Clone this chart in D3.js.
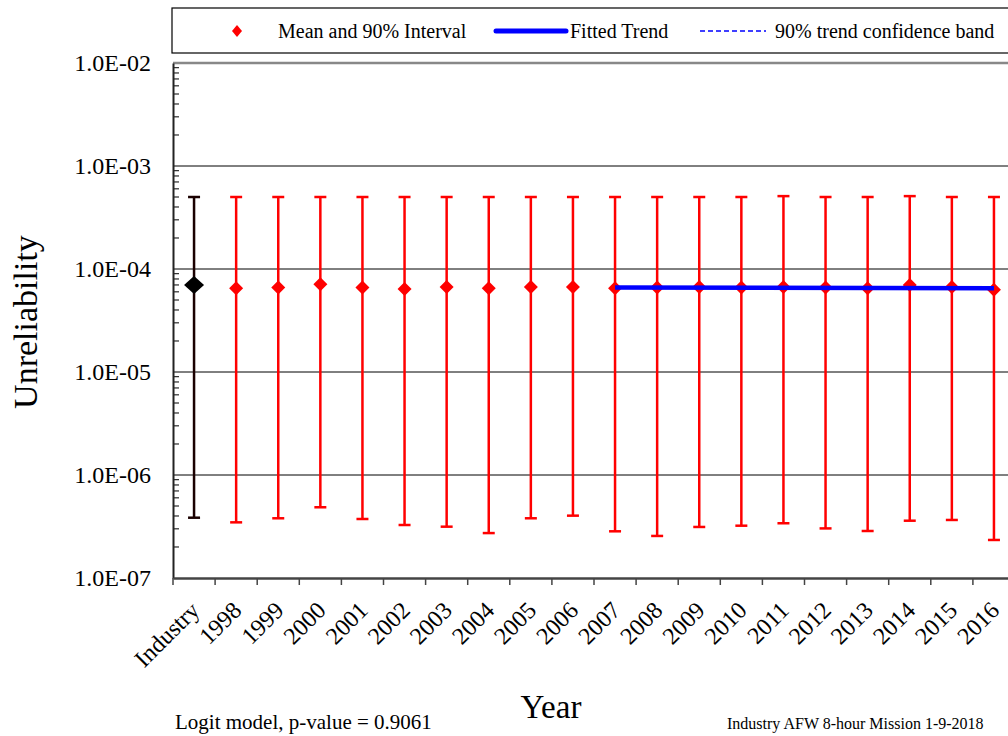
<!DOCTYPE html>
<html>
<head>
<meta charset="utf-8">
<script src="https://cdn.jsdelivr.net/npm/d3@7"></script>
<style>
html,body{margin:0;padding:0;background:#fff;overflow:hidden;}
text{font-family:"Liberation Serif","Times New Roman",serif;}
</style>
</head>
<body>
<svg id="chart" width="1008" height="736"></svg>
<script>
const categories = ["Industry","1998","1999","2000","2001","2002","2003","2004","2005","2006","2007","2008","2009","2010","2011","2012","2013","2014","2015","2016"];
const meanValues = [7.0e-5,6.5e-5,6.6e-5,7.1e-5,6.6e-5,6.4e-5,6.7e-5,6.5e-5,6.7e-5,6.7e-5,6.5e-5,6.6e-5,6.7e-5,6.6e-5,6.7e-5,6.6e-5,6.5e-5,7.0e-5,6.7e-5,6.3e-5];
const upperValues = [5.0e-4,5.0e-4,5.0e-4,5.0e-4,5.0e-4,5.0e-4,5.0e-4,5.0e-4,5.0e-4,5.0e-4,5.0e-4,5.0e-4,5.0e-4,5.0e-4,5.1e-4,5.0e-4,5.0e-4,5.1e-4,5.0e-4,5.0e-4];
const lowerValues = [3.85e-7,3.47e-7,3.8e-7,4.86e-7,3.74e-7,3.27e-7,3.15e-7,2.73e-7,3.8e-7,4.03e-7,2.84e-7,2.56e-7,3.13e-7,3.22e-7,3.4e-7,3.03e-7,2.86e-7,3.6e-7,3.66e-7,2.34e-7];
const trendYears = ["2007","2016"];
const trendValues = [6.6e-5,6.5e-5];
const bandUpper = [6.65e-5,6.55e-5];
const bandLower = [6.55e-5,6.45e-5];
const yTickValues = [1e-7,1e-6,1e-5,1e-4,1e-3,1e-2];
const yTickLabels = ["1.0E-07","1.0E-06","1.0E-05","1.0E-04","1.0E-03","1.0E-02"];

const svg = d3.select("#chart");
const pLeft = 173, pRight = 1015, pTop = 63, pBottom = 578;

const x = d3.scaleBand().domain(categories).range([pLeft, pRight]).padding(0);
const y = d3.scaleLog().domain([1e-7, 1e-2]).range([pBottom, pTop]);
const cx = c => x(c) + x.bandwidth() / 2;

// Gridlines at decades
svg.append("g").selectAll("line").data(yTickValues.filter(v => v > 1e-7 && v < 1e-2)).join("line")
  .attr("x1", pLeft).attr("x2", pRight).attr("y1", d => y(d)).attr("y2", d => y(d))
  .attr("stroke", "#000").attr("stroke-width", 1);
// top border
svg.append("line").attr("x1", pLeft).attr("x2", pRight).attr("y1", pTop).attr("y2", pTop)
  .attr("stroke", "#888").attr("stroke-width", 2.5);

// minor ticks
const minor = [];
for (let e = -7; e < -2; e++) for (let m = 2; m <= 9; m++) minor.push(m * Math.pow(10, e));
svg.append("g").selectAll("line").data(minor).join("line")
  .attr("x1", pLeft).attr("x2", pLeft + 6).attr("y1", d => y(d)).attr("y2", d => y(d))
  .attr("stroke", "#000").attr("stroke-width", 1);

// Y axis
const yAxis = d3.axisLeft(y).tickValues(yTickValues).tickFormat(d => yTickLabels[yTickValues.indexOf(d)]).tickSize(0).tickPadding(22);
const gy = svg.append("g").attr("transform", `translate(${pLeft},0)`).call(yAxis);
gy.select(".domain").attr("stroke", "#222").attr("stroke-width", 2);
gy.selectAll("text").attr("font-size", 24).attr("fill", "#000").attr("font-family", "Liberation Serif");
gy.selectAll(".tick line").remove();

// X axis
const xAxis = d3.axisBottom(x).tickSize(0).tickFormat("");
const gx = svg.append("g").attr("transform", `translate(0,${pBottom})`).call(xAxis);
gx.select(".domain").attr("stroke", "#444").attr("stroke-width", 2.5);
gx.selectAll(".tick").remove();
const boundaries = categories.map(c => x(c));
svg.append("g").selectAll("line").data(boundaries).join("line")
  .attr("x1", d => d).attr("x2", d => d).attr("y1", pBottom).attr("y2", pBottom + 7)
  .attr("stroke", "#444").attr("stroke-width", 1.5);
svg.append("g").selectAll("text").data(categories).join("text")
  .attr("transform", d => `translate(${cx(d) - 5},${pBottom + 22}) rotate(-45)`)
  .attr("text-anchor", "end").attr("dy", "0.7em")
  .attr("font-size", 24).attr("fill", "#000").text(d => d);

// error bars
const bars = svg.append("g");
categories.forEach((c, i) => {
  const col = i === 0 ? "#1a0000" : "#ff0000";
  const xc = cx(c);
  bars.append("line").attr("x1", xc).attr("x2", xc).attr("y1", y(upperValues[i])).attr("y2", y(lowerValues[i]))
    .attr("stroke", col).attr("stroke-width", 2.5);
  [upperValues[i], lowerValues[i]].forEach(v => {
    bars.append("line").attr("x1", xc - 6).attr("x2", xc + 6).attr("y1", y(v)).attr("y2", y(v))
      .attr("stroke", col).attr("stroke-width", 2.5);
  });
});

// trend band and line
const line = d3.line().x(d => cx(d[0])).y(d => y(d[1]));
[bandUpper, bandLower].forEach(b => {
  svg.append("path").attr("d", line(trendYears.map((t, i) => [t, b[i]])))
    .attr("fill", "none").attr("stroke", "#0000ff").attr("stroke-width", 1.5).attr("stroke-dasharray", "4,3");
});

// diamonds
const diamond = (xc, yc, w, h) => `M${xc},${yc - h / 2}L${xc + w / 2},${yc}L${xc},${yc + h / 2}L${xc - w / 2},${yc}Z`;
svg.append("g").selectAll("path").data(categories).join("path")
  .attr("d", (c, i) => i === 0 ? diamond(cx(c), y(meanValues[i]), 20, 18) : diamond(cx(c), y(meanValues[i]), 14, 14))
  .attr("fill", (c, i) => i === 0 ? "#000" : "#ff0000");

svg.append("path").attr("d", line(trendYears.map((t, i) => [t, trendValues[i]])))
  .attr("fill", "none").attr("stroke", "#0000ff").attr("stroke-width", 4.5);

// Legend
svg.append("rect").attr("x", 172).attr("y", 8).attr("width", 860).attr("height", 45)
  .attr("fill", "#fff").attr("stroke", "#000").attr("stroke-width", 1.2);
svg.append("path").attr("d", diamond(237, 31, 10, 12)).attr("fill", "#ff0000");
svg.append("text").attr("x", 278).attr("y", 38).attr("font-size", 20).text("Mean and 90% Interval");
svg.append("line").attr("x1", 496).attr("x2", 566).attr("y1", 31).attr("y2", 31).attr("stroke", "#0000ff").attr("stroke-width", 5).attr("stroke-linecap", "round");
svg.append("text").attr("x", 570).attr("y", 38).attr("font-size", 20).text("Fitted Trend");
svg.append("line").attr("x1", 700).attr("x2", 766).attr("y1", 31).attr("y2", 31).attr("stroke", "#0000ff").attr("stroke-width", 1.5).attr("stroke-dasharray", "5,3");
svg.append("text").attr("x", 775).attr("y", 38).attr("font-size", 20).text("90% trend confidence band");

// Titles
svg.append("text").attr("transform", "translate(37,322) rotate(-90)").attr("text-anchor", "middle")
  .attr("font-size", 34).text("Unreliability");
svg.append("text").attr("x", 551).attr("y", 718).attr("text-anchor", "middle").attr("font-size", 33).text("Year");
svg.append("text").attr("x", 175).attr("y", 729).attr("font-size", 21).text("Logit model, p-value = 0.9061");
svg.append("text").attr("x", 727).attr("y", 729).attr("font-size", 16).text("Industry AFW 8-hour Mission 1-9-2018");
</script>
</body>
</html>
